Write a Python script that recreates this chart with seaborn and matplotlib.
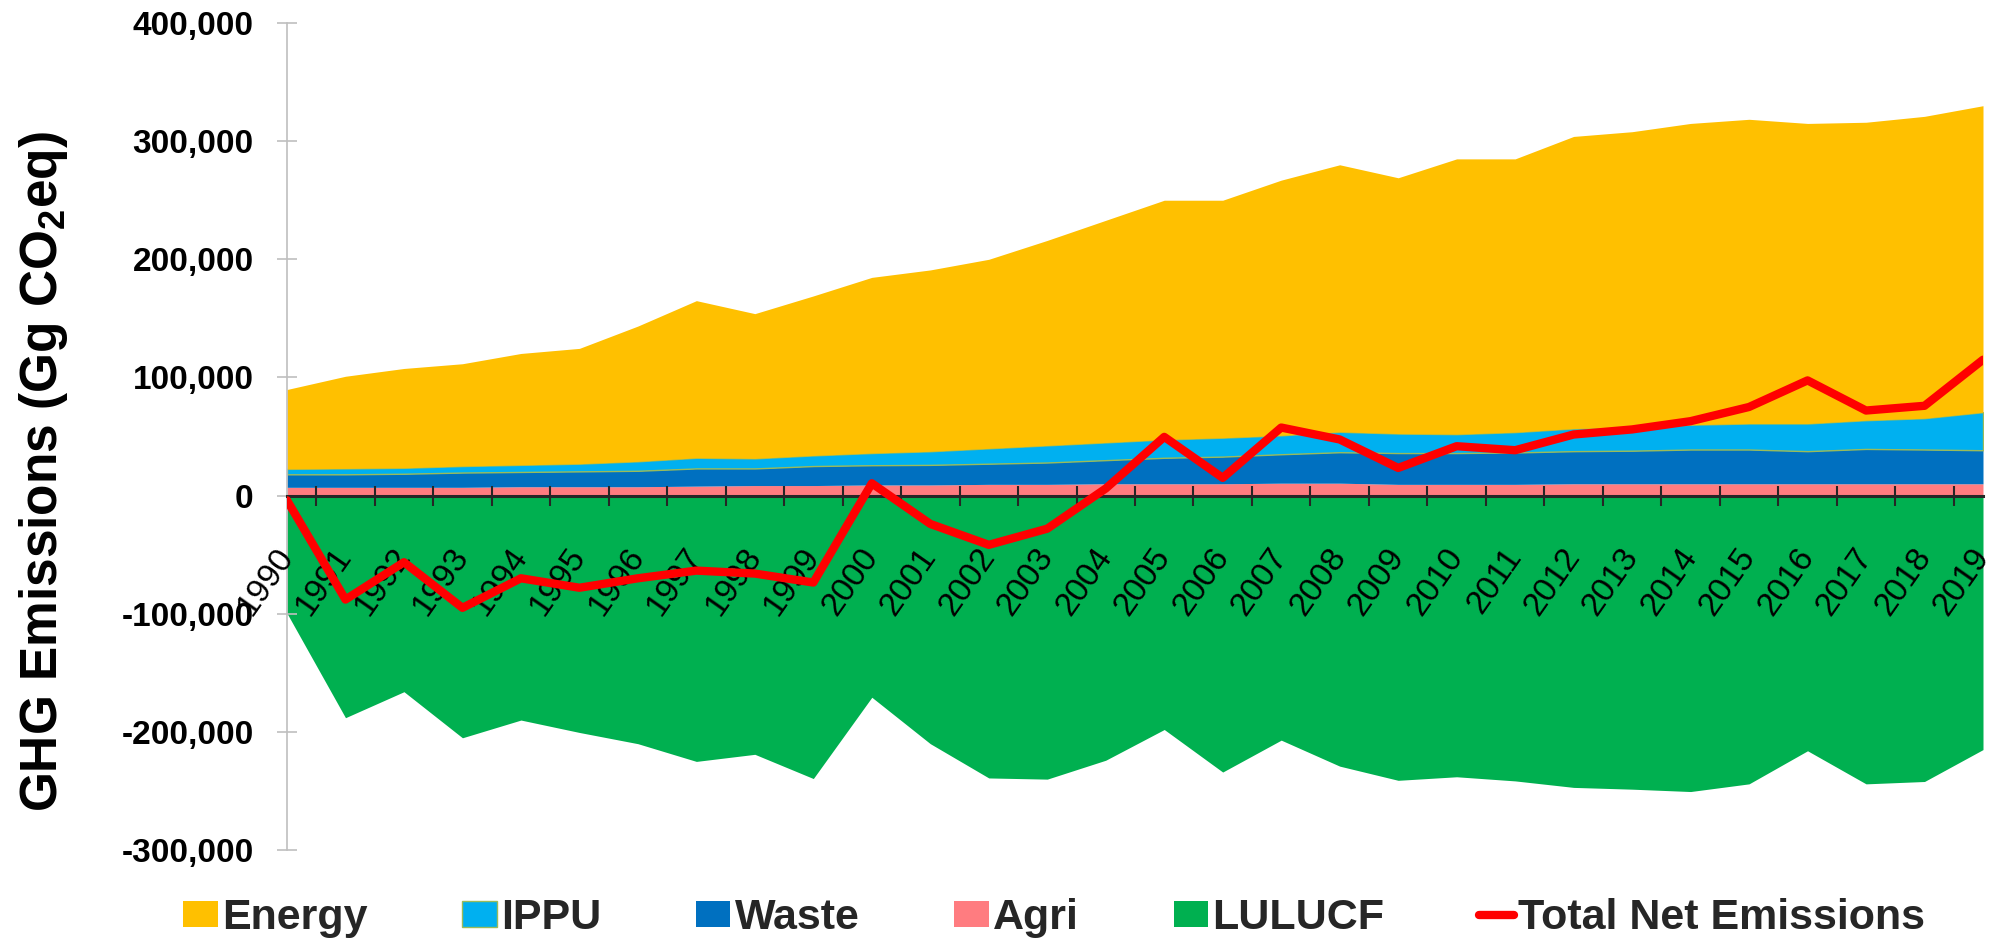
import numpy as np
import pandas as pd
import matplotlib
matplotlib.use('Agg')
import matplotlib.pyplot as plt
from matplotlib import font_manager
from matplotlib.ticker import FuncFormatter
import seaborn as sns

years = list(range(1990, 2020))

# Gg CO2eq (thousands)
agri = [7, 7, 7, 7, 7.5, 7.5, 7.5, 8, 8.5, 8.5, 9, 9, 9.5, 9.5, 10,
        10, 10, 10.5, 10.5, 9.5, 9.5, 9.5, 10, 10, 10, 10, 10, 10, 10, 10]
waste = [11, 11, 11.5, 12.5, 12.5, 13, 13.5, 15, 14.5, 16.5, 16.7, 17, 17.5, 18.5, 20,
         22, 23, 24.5, 26.2, 26.5, 26.5, 27, 27.6, 28, 29, 29, 27.6, 29.5, 29, 28.4]
ippu = [4.6, 5, 5, 5.5, 6, 6.5, 8, 9, 8.5, 9, 10.3, 11.5, 13, 14.5, 15,
        15.5, 16, 16, 17.3, 16.5, 16, 17.2, 19.2, 20, 21, 22, 23.4, 24.3, 26.5, 32.2]
energy = [67.2, 78, 84.1, 86.6, 94.3, 97.6, 114.5, 133, 122.5, 135, 148.7, 153.5, 160, 173.5, 188,
          202.5, 201, 216, 226, 216.5, 233, 231.3, 247.2, 250, 255, 257.5, 254, 252.2, 255.5, 259.4]
lulucf = [-99.6, -188, -166, -205, -190, -200.5, -210, -225, -219, -239.5, -170.7, -210, -239, -240, -224,
          -198, -234, -207, -229, -241, -238, -241.5, -247, -248.5, -250.5, -244, -216, -244, -242, -215]
total_net = [-4, -88, -56.4, -95, -70, -78, -70, -63.5, -66, -73.6, 10.4, -24, -41.7, -28, 6,
             49.7, 15, 57.6, 47.5, 23.4, 41.8, 38.4, 51.7, 56, 63, 75, 97.5, 72, 76, 115]

df = pd.DataFrame({
    'year': years,
    'Agri': np.array(agri) * 1000,
    'Waste': np.array(waste) * 1000,
    'IPPU': np.array(ippu) * 1000,
    'Energy': np.array(energy) * 1000,
    'LULUCF': np.array(lulucf) * 1000,
    'Total Net Emissions': np.array(total_net) * 1000,
})

colors = {'Energy': '#FFC000', 'IPPU': '#00B0F0', 'Waste': '#0070C0',
          'Agri': '#FF7C80', 'LULUCF': '#00B050'}

sns.set_theme(style='white')
plt.rcParams['font.family'] = ['Liberation Sans', 'DejaVu Sans']
plt.rcParams['axes.axisbelow'] = False

names = {f.name for f in font_manager.fontManager.ttflist}
if 'Liberation Sans Narrow' in names:
    ylab_family, ylab_size = 'Liberation Sans Narrow', 43
else:
    ylab_family, ylab_size = 'Liberation Sans', 37
plt.rcParams['mathtext.fontset'] = 'custom'
plt.rcParams['mathtext.default'] = 'bf'
plt.rcParams['mathtext.bf'] = ylab_family + ':bold'

fig, ax = plt.subplots(figsize=(20, 9.43), dpi=100)
fig.subplots_adjust(left=0.1435, right=0.9915, bottom=0.0986, top=0.9756)

polys = ax.stackplot(df['year'], df['Agri'], df['Waste'], df['IPPU'], df['Energy'],
                     colors=[colors['Agri'], colors['Waste'], colors['IPPU'], colors['Energy']],
                     labels=['Agri', 'Waste', 'IPPU', 'Energy'], linewidth=0, zorder=1)
polys[2].set_edgecolor('#9BBB59')
polys[2].set_linewidth(1.0)
lu = ax.fill_between(df['year'], df['LULUCF'], 0, color=colors['LULUCF'],
                     linewidth=0, label='LULUCF', zorder=1)
sns.lineplot(data=df, x='year', y='Total Net Emissions', color='#FF0000',
             linewidth=6, ax=ax, label='Total Net Emissions', zorder=5)

ax.set_xlim(1990, 2019)
ax.set_ylim(-300000, 400000)

for s in ['top', 'right']:
    ax.spines[s].set_visible(False)
ax.spines['left'].set_color('#BFBFBF')
ax.spines['left'].set_linewidth(1.2)
ax.spines['bottom'].set_position(('data', 0))
ax.spines['bottom'].set_color('#262626')
ax.spines['bottom'].set_linewidth(2.2)
ax.spines['bottom'].set_zorder(3)
ax.xaxis.set_zorder(4)

ax.set_yticks(range(-300000, 400001, 100000))
ax.yaxis.set_major_formatter(FuncFormatter(lambda v, p: '{:,.0f}'.format(v)))
ax.tick_params(axis='y', which='major', left=True, direction='inout', length=14,
               width=1.2, color='#BFBFBF', labelsize=24, pad=17)
for lbl in ax.get_yticklabels():
    lbl.set_fontweight('bold')
    lbl.set_color('black')

ax.set_xticks(years)
ax.set_xticklabels([str(y) for y in years], rotation=55, ha='right', va='center',
                   rotation_mode='anchor', fontsize=24, color='black')
ax.set_xticks([y + 0.5 for y in years[:-1]] + [2019], minor=True)
ax.tick_params(axis='x', which='major', bottom=True, length=0, pad=40)
ax.tick_params(axis='x', which='minor', bottom=True, direction='inout', length=14,
               width=1.5, color='#262626')

ax.set_xlabel('')
ax.set_ylabel('GHG Emissions (Gg CO$_2$eq)', fontsize=ylab_size, fontweight='bold',
              family=ylab_family, color='black')
ax.yaxis.set_label_coords(-0.128, 0.458)

handles, labels = ax.get_legend_handles_labels()
hmap = dict(zip(labels, handles))
order = ['Energy', 'IPPU', 'Waste', 'Agri', 'LULUCF', 'Total Net Emissions']
if ax.get_legend() is not None:
    ax.get_legend().remove()
fig.legend([hmap[k] for k in order], order, loc='center', bbox_to_anchor=(0.527, 0.0265),
           ncol=6, frameon=False, prop={'weight': 'bold', 'size': 31},
           handlelength=0.8, handleheight=0.55, handletextpad=0.1, columnspacing=2.2)

plt.savefig('out.png', dpi=100)
